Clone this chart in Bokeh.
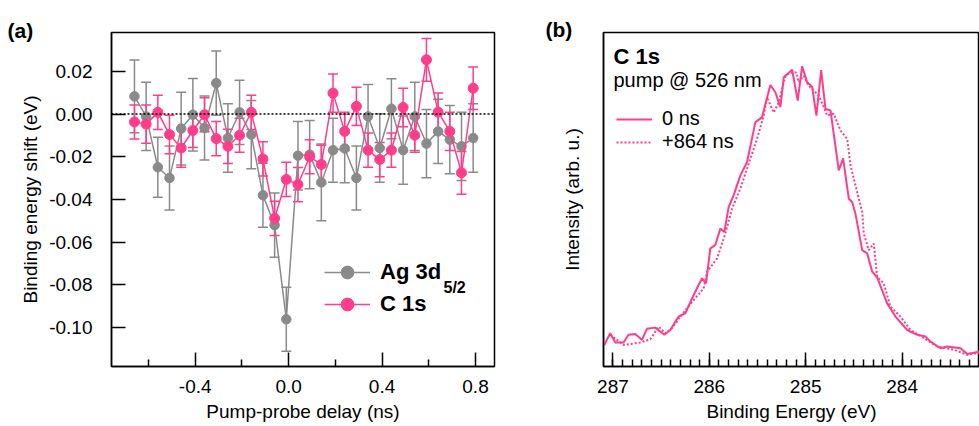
from bokeh.plotting import figure
from bokeh.layouts import row
from bokeh.models import (ColumnDataSource, Range1d, FixedTicker, NumeralTickFormatter,
                          Span, Whisker, TeeHead, Legend, LegendItem, Label)
from bokeh.embed import file_html
from bokeh.resources import INLINE

# ---------------- data: panel (a) ----------------
delay_ns = [-0.66, -0.61, -0.56, -0.51, -0.46, -0.41, -0.36, -0.31, -0.26, -0.21,
            -0.16, -0.11, -0.06, -0.01, 0.04, 0.09, 0.14, 0.19, 0.24, 0.29,
            0.34, 0.39, 0.44, 0.49, 0.54, 0.59, 0.64, 0.69, 0.74, 0.79]
ag_shift = [0.0083, -0.0011, -0.0249, -0.0299, -0.0068, -0.0003, -0.0065, 0.0145, -0.0112, 0.0008,
            -0.0096, -0.0380, -0.0520, -0.0961, -0.0195, -0.0190, -0.0320, -0.0169, -0.0161, -0.0299,
            -0.0011, -0.0159, 0.0025, -0.0169, -0.0011, -0.0138, -0.0081, -0.0120, -0.0151, -0.0112]
ag_err = [0.017, 0.016, 0.014, 0.015, 0.017, 0.017, 0.015, 0.015, 0.016, 0.015,
          0.016, 0.015, 0.015, 0.015, 0.016, 0.016, 0.018, 0.015, 0.016, 0.015,
          0.015, 0.016, 0.014, 0.016, 0.016, 0.016, 0.015, 0.016, 0.016, 0.016]
c1s_shift = [-0.0037, -0.0047, 0.0008, -0.0096, -0.0159, -0.0077, -0.0003, -0.0115, -0.0151, -0.0099,
             0.0008, -0.0210, -0.0488, -0.0306, -0.0330, -0.0200, -0.0236, 0.0098, -0.0081, 0.0036,
             -0.0169, -0.0213, -0.0169, 0.0031, -0.0099, 0.0254, 0.0009, -0.0081, -0.0275, 0.0121]
c1s_err = [0.008, 0.009, 0.008, 0.009, 0.009, 0.008, 0.008, 0.008, 0.008, 0.008,
           0.008, 0.008, 0.008, 0.008, 0.008, 0.008, 0.009, 0.009, 0.009, 0.009,
           0.008, 0.008, 0.008, 0.009, 0.008, 0.010, 0.009, 0.009, 0.010, 0.010]
y_ticks_a = [-0.10, -0.08, -0.06, -0.04, -0.02, 0.0, 0.02]
x_ticks_a = [-0.4, 0.0, 0.4, 0.8]
x_minor_a = [-0.6, -0.2, 0.2, 0.6]

# ---------------- data: panel (b) ----------------
be_0ns = [287.090, 287.028, 286.976, 286.890, 286.838, 286.768, 286.699, 286.647, 286.561, 286.467,
          286.405, 286.319, 286.249, 286.163, 286.076, 286.034, 285.990, 285.938, 285.886, 285.844,
          285.800, 285.748, 285.678, 285.609, 285.522, 285.453, 285.367, 285.315, 285.263, 285.228,
          285.141, 285.083, 285.037, 284.985, 284.934, 284.889, 284.840, 284.795, 284.743, 284.657,
          284.612, 284.553, 284.518, 284.484, 284.414, 284.362, 284.310, 284.259, 284.155, 284.069,
          283.947, 283.843, 283.757, 283.705, 283.602, 283.532, 283.394, 283.324, 283.196]
int_0ns = [0.072, 0.111, 0.080, 0.080, 0.106, 0.109, 0.089, 0.126, 0.130, 0.106,
           0.122, 0.167, 0.178, 0.239, 0.295, 0.278, 0.395, 0.406, 0.461, 0.450,
           0.533, 0.572, 0.639, 0.683, 0.817, 0.833, 0.941, 0.917, 0.867, 0.967,
           0.992, 0.889, 1.004, 0.950, 0.936, 0.839, 0.991, 0.861, 0.856, 0.656,
           0.696, 0.561, 0.550, 0.511, 0.389, 0.378, 0.317, 0.298, 0.211, 0.167,
           0.122, 0.106, 0.100, 0.083, 0.061, 0.067, 0.061, 0.042, 0.050]
be_864ns = [287.028, 286.890, 286.717, 286.613, 286.526, 286.457, 286.387, 286.301, 286.163, 286.059,
            286.024, 285.920, 285.834, 285.764, 285.678, 285.609, 285.505, 285.436, 285.401, 285.332,
            285.280, 285.210, 285.159, 285.097, 285.073, 285.021, 284.969, 284.865, 284.813, 284.778,
            284.709, 284.639, 284.570, 284.535, 284.484, 284.414, 284.398, 284.346, 284.294, 284.259,
            284.190, 284.120, 284.017, 283.913, 283.775, 283.636, 283.463, 283.324, 283.196]
int_864ns = [0.106, 0.072, 0.080, 0.091, 0.133, 0.111, 0.128, 0.167, 0.222, 0.261,
             0.317, 0.361, 0.445, 0.528, 0.595, 0.661, 0.761, 0.839, 0.900, 0.849,
             0.883, 0.972, 0.982, 0.983, 0.950, 0.972, 0.939, 0.906, 0.867, 0.839,
             0.845, 0.789, 0.761, 0.672, 0.606, 0.517, 0.445, 0.389, 0.411, 0.300,
             0.278, 0.200, 0.167, 0.122, 0.095, 0.067, 0.056, 0.039, 0.047]
x_ticks_b = [284, 285, 286, 287]

GRAY = "#8a8a8a"
PINK = "#ff3d8b"
FONT = "Liberation Sans"


def style_axis(ax, tick_size="19px", label_size="19px"):
    ax.axis_line_color = "black"
    ax.axis_line_width = 1.5
    ax.major_tick_line_color = "black"
    ax.major_tick_line_width = 1.5
    ax.minor_tick_line_color = "black"
    ax.minor_tick_line_width = 1.5
    ax.major_tick_in = 14
    ax.major_tick_out = 0
    ax.minor_tick_in = 7
    ax.minor_tick_out = 0
    ax.major_label_text_font = FONT
    ax.major_label_text_font_size = tick_size
    ax.major_label_text_color = "black"
    ax.axis_label_text_font = FONT
    ax.axis_label_text_font_size = label_size
    ax.axis_label_text_font_style = "normal"
    ax.axis_label_text_color = "black"


def panel_title(p, text, offset, standoff):
    p.title.text = text
    p.title.align = "left"
    p.title.offset = offset
    p.title.standoff = standoff
    p.title.text_font = FONT
    p.title.text_font_size = "21px"
    p.title.text_font_style = "bold"
    p.title.text_color = "black"


# ---------------- panel (a) ----------------
p1 = figure(width=530, height=426, x_range=Range1d(-0.7583, 0.8813), y_range=Range1d(-0.1182, 0.0382),
            output_backend="svg", toolbar_location=None,
            min_border_left=111, min_border_right=36, min_border_top=31, min_border_bottom=60)
p1.xgrid.grid_line_color = None
p1.ygrid.grid_line_color = None
p1.outline_line_color = "black"
p1.outline_line_width = 1.5
p1.outline_line_alpha = 1.0
panel_title(p1, "(a)", -104, -18)

style_axis(p1.xaxis[0])
style_axis(p1.yaxis[0])
p1.xaxis[0].ticker = FixedTicker(ticks=x_ticks_a, minor_ticks=x_minor_a)
p1.xaxis[0].formatter = NumeralTickFormatter(format="0.0")
p1.xaxis[0].axis_label = "Pump-probe delay (ns)"
p1.xaxis[0].major_label_standoff = 13
p1.xaxis[0].axis_label_standoff = 5
p1.yaxis[0].ticker = FixedTicker(ticks=y_ticks_a)
p1.yaxis[0].formatter = NumeralTickFormatter(format="0.00")
p1.yaxis[0].minor_tick_line_color = None
p1.yaxis[0].axis_label = "Binding energy shift (eV)"
p1.yaxis[0].major_label_standoff = 19
p1.yaxis[0].axis_label_standoff = 5

p1.add_layout(Span(location=0, dimension="width", line_color="black", line_width=1.5, line_dash="2 2"))

src_ag = ColumnDataSource(dict(x=delay_ns, y=ag_shift,
                               lo=[v - e for v, e in zip(ag_shift, ag_err)],
                               hi=[v + e for v, e in zip(ag_shift, ag_err)]))
src_c = ColumnDataSource(dict(x=delay_ns, y=c1s_shift,
                              lo=[v - e for v, e in zip(c1s_shift, c1s_err)],
                              hi=[v + e for v, e in zip(c1s_shift, c1s_err)]))

for src, col in ((src_ag, GRAY), (src_c, PINK)):
    p1.add_layout(Whisker(source=src, base="x", upper="hi", lower="lo", line_color=col, line_width=1.5,
                          upper_head=TeeHead(size=10, line_color=col, line_width=1.5),
                          lower_head=TeeHead(size=10, line_color=col, line_width=1.5)))

ag_line = p1.line("x", "y", source=src_ag, line_color=GRAY, line_width=1.5)
ag_pts = p1.scatter("x", "y", source=src_ag, size=9.5, fill_color=GRAY, line_color=GRAY)
c_line = p1.line("x", "y", source=src_c, line_color=PINK, line_width=1.5)
c_pts = p1.scatter("x", "y", source=src_c, size=10, fill_color=PINK, line_color=PINK)

leg1 = Legend(items=[LegendItem(label="Ag 3d", renderers=[ag_line, ag_pts]),
                     LegendItem(label="C 1s", renderers=[c_line, c_pts])],
              location=(213, 46), orientation="vertical",
              glyph_width=46, glyph_height=32, label_height=32, spacing=0,
              label_standoff=10, padding=0, margin=0,
              border_line_color=None, background_fill_alpha=0,
              label_text_font=FONT, label_text_font_size="22px", label_text_font_style="bold",
              label_text_color="black")
p1.add_layout(leg1)
p1.add_layout(Label(x=332, y=79, x_units="screen", y_units="screen", text="5/2",
                    text_font=FONT, text_font_size="16px", text_font_style="bold",
                    text_color="black", text_baseline="alphabetic"))

# ---------------- panel (b) ----------------
p2 = figure(width=449, height=426, x_range=Range1d(287.098, 283.197), y_range=Range1d(0, 1.1167),
            output_backend="svg", toolbar_location=None,
            min_border_left=73, min_border_right=0, min_border_top=32, min_border_bottom=59)
p2.xgrid.grid_line_color = None
p2.ygrid.grid_line_color = None
p2.outline_line_color = "black"
p2.outline_line_width = 1.5
p2.outline_line_alpha = 1.0
panel_title(p2, "(b)", -58, -16)

style_axis(p2.xaxis[0])
p2.xaxis[0].ticker = FixedTicker(ticks=x_ticks_b,
                                 minor_ticks=[283.2 + 0.1 * i for i in range(39)])
p2.xaxis[0].axis_label = "Binding Energy (eV)"
p2.xaxis[0].major_label_standoff = 13
p2.xaxis[0].axis_label_standoff = 5

style_axis(p2.yaxis[0])
p2.yaxis[0].ticker = FixedTicker(ticks=[])
p2.yaxis[0].major_label_standoff = 0
p2.yaxis[0].axis_label = "Intensity (arb. u.)"
p2.yaxis[0].axis_label_standoff = 21

l0 = p2.line(be_0ns, int_0ns, line_color=PINK, line_width=2)
l864 = p2.line(be_864ns, int_864ns, line_color=PINK, line_width=2, line_dash="2 2")

leg2 = Legend(items=[LegendItem(label="0 ns", renderers=[l0]),
                     LegendItem(label="+864 ns", renderers=[l864])],
              location=(13, 213), orientation="vertical",
              glyph_width=36, glyph_height=20, label_height=20, spacing=0,
              label_standoff=10, padding=0, margin=0,
              border_line_color=None, background_fill_alpha=0,
              label_text_font=FONT, label_text_font_size="20px", label_text_color="black")
p2.add_layout(leg2)
p2.add_layout(Label(x=10, y=310, x_units="screen", y_units="screen", text="C 1s",
                    text_font=FONT, text_font_size="22px", text_font_style="bold",
                    text_color="black", text_baseline="alphabetic"))
p2.add_layout(Label(x=10, y=287, x_units="screen", y_units="screen", text="pump @ 526 nm",
                    text_font=FONT, text_font_size="20px",
                    text_color="black", text_baseline="alphabetic"))

layout = row(p1, p2)
open("out.html", "w").write(file_html(layout, INLINE))
